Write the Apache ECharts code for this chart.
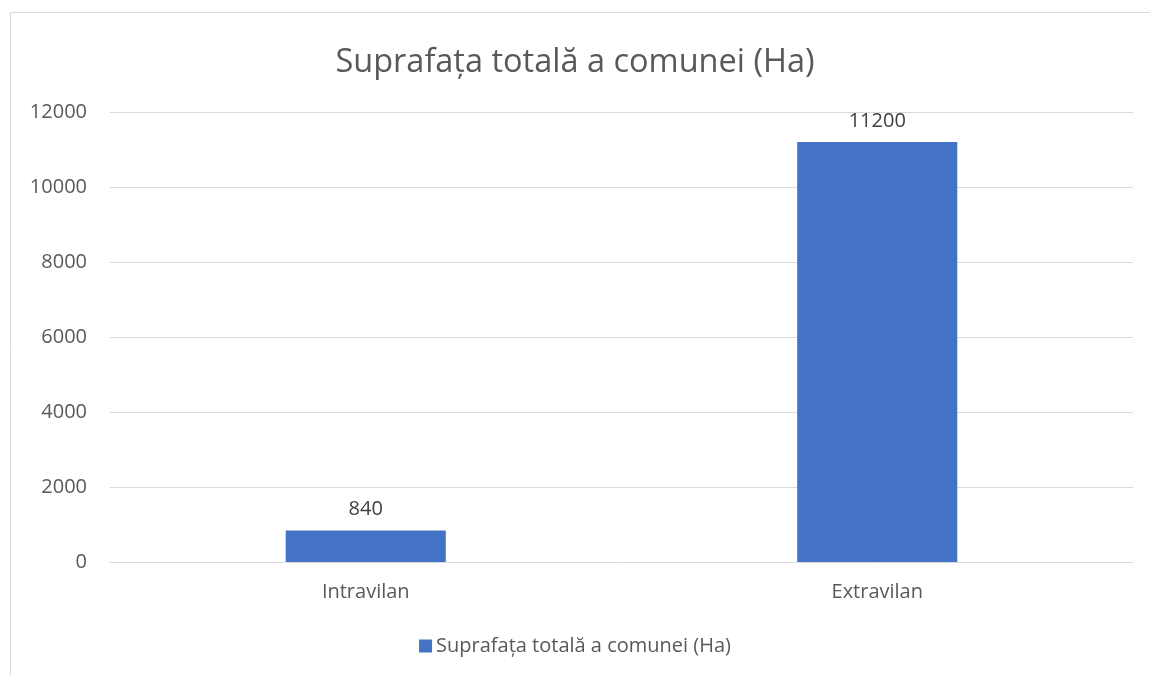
<!DOCTYPE html>
<html>
<head>
<meta charset="utf-8">
<script src="https://cdn.jsdelivr.net/npm/echarts@6/dist/echarts.min.js"></script>
<style>
html,body{margin:0;padding:0;background:#fff;}
#chart{width:1150px;height:675px;}
</style>
</head>
<body>
<div id="chart"></div>
<script>
const titleText = 'Suprafața totală a comunei (Ha)';
const categories = ['Intravilan', 'Extravilan'];
const seriesName = 'Suprafața totală a comunei (Ha)';
const values = [840, 11200];
const yMin = 0, yMax = 12000, yStep = 2000;

const FONT = '"Open Sans", "Noto Sans", sans-serif';
const chart = echarts.init(document.getElementById('chart'));
chart.setOption({
  backgroundColor: '#ffffff',
  animation: false,
  textStyle: { fontFamily: FONT },
  graphic: [{
    type: 'rect',
    shape: { x: 10.5, y: 12.5, width: 1200, height: 700 },
    style: { fill: 'none', stroke: '#d9d9d9', lineWidth: 1 },
    silent: true, z: -10
  }],
  title: {
    text: titleText,
    left: 'center',
    top: 41,
    textStyle: { fontFamily: FONT, fontSize: 32.5, fontWeight: 'normal', color: '#595959' }
  },
  legend: {
    bottom: 14,
    left: 'center',
    itemWidth: 13, itemHeight: 13, itemGap: 10,
    icon: 'rect',
    textStyle: { fontFamily: FONT, fontSize: 20, color: '#595959', padding: [0, 0, 0, -1] },
    data: [seriesName]
  },
  grid: { left: 110, right: 17, top: 112, bottom: 113, containLabel: false },
  xAxis: {
    type: 'category',
    data: categories,
    axisLine: { show: true, lineStyle: { color: '#d9d9d9', width: 1 } },
    axisTick: { show: false },
    axisLabel: { fontFamily: FONT, fontSize: 20, color: '#595959', margin: 20 },
    splitLine: { show: false }
  },
  yAxis: {
    type: 'value',
    min: yMin, max: yMax, interval: yStep,
    axisLine: { show: false },
    axisTick: { show: false },
    axisLabel: { fontFamily: FONT, fontSize: 20, color: '#595959', margin: 23, formatter: v => String(v) },
    splitLine: { lineStyle: { color: '#d9d9d9', width: 1 } }
  },
  series: [{
    name: seriesName,
    type: 'bar',
    data: values,
    barWidth: '31.3%',
    itemStyle: { color: '#4472c4' },
    label: { show: true, position: 'top', distance: 11, fontFamily: FONT, fontSize: 20, color: '#404040' }
  }]
});
</script>
</body>
</html>
